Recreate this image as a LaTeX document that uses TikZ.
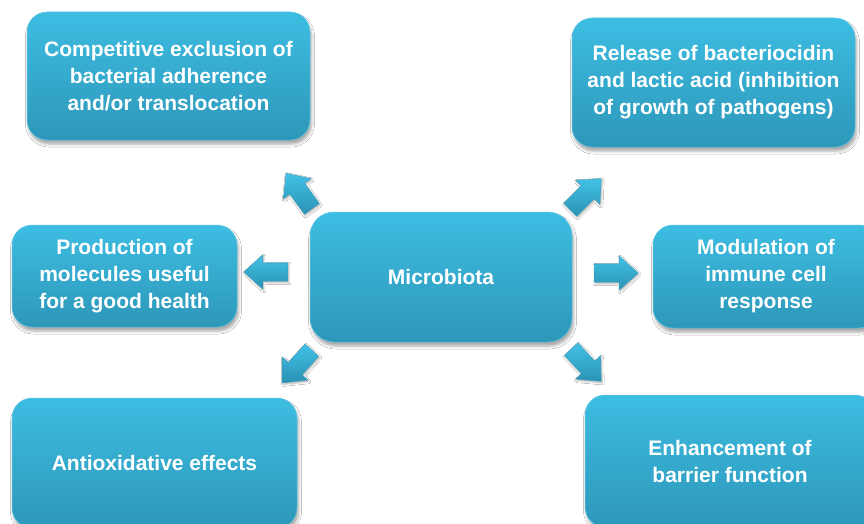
\documentclass[tikz,border=0pt]{standalone}
\usepackage{fontspec}
\setmainfont{Liberation Sans}
\usetikzlibrary{shapes.arrows,shadows.blur}
\definecolor{boxtop}{HTML}{3DBDE2}
\definecolor{boxbot}{HTML}{2D97B9}
\definecolor{boxedge}{HTML}{5CC9E8}
\definecolor{arrtop}{HTML}{42C2E6}
\definecolor{arrbot}{HTML}{2A92B4}
\tikzset{
  infobox/.style={rectangle, rounded corners=20pt, top color=boxtop, bottom color=boxbot,
    draw=boxedge, line width=0.5pt, align=center, text=white,
    font=\fontsize{21}{27}\selectfont\bfseries, inner sep=0pt,
    blur shadow={shadow xshift=1.5pt, shadow yshift=-4pt, shadow blur radius=3pt, shadow opacity=35}},
  blockarrow/.style={single arrow, minimum height=44pt, minimum width=34pt,
    single arrow head extend=8pt, single arrow tip angle=84, inner xsep=0pt, inner ysep=9pt, anchor=tail,
    top color=arrtop, bottom color=arrbot, draw=arrbot!90, line width=0.4pt,
    blur shadow={shadow xshift=1pt, shadow yshift=-1.5pt, shadow blur radius=2pt, shadow opacity=30}}
}
\begin{document}
\begin{tikzpicture}[x=1pt,y=-1pt]
\useasboundingbox (0,0) rectangle (864,524);
\clip (0,0) rectangle (864,524);
\fill[white] (0,0) rectangle (864,524);

\node[infobox, minimum width=283pt, minimum height=128pt] (comp) at (168.5,76)
  {Competitive exclusion of\\bacterial adherence\\and/or translocation};
\node[infobox, minimum width=283pt, minimum height=129pt] (rel) at (713.5,82.5)
  {Release of bacteriocidin\\and lactic acid (inhibition\\of growth of pathogens)};
\node[infobox, minimum width=225pt, minimum height=102pt] (prod) at (124.5,276)
  {Production of\\molecules useful\\for a good health};
\node[infobox, rounded corners=24pt, minimum width=262pt, minimum height=130pt] (micro) at (441,277)
  {Microbiota};
\node[infobox, minimum width=226pt, minimum height=103pt] (mod) at (766,276.5)
  {Modulation of\\immune cell\\response};
\node[infobox, minimum width=285pt, minimum height=130pt] (anti) at (154.5,463)
  {Antioxidative effects};
\node[infobox, minimum width=290pt, minimum height=132pt] (enh) at (730,461)
  {Enhancement of\\barrier function};

\node[blockarrow, rotate=126] (aul) at (312,209) {};
\node[blockarrow, rotate=45] (aur) at (570,210) {};
\node[blockarrow, rotate=180] (al) at (288,272) {};
\node[blockarrow, rotate=0] (ar) at (594,273) {};
\node[blockarrow, rotate=228] (adl) at (312,350) {};
\node[blockarrow, rotate=313] (adr) at (571,349) {};
\end{tikzpicture}
\end{document}
